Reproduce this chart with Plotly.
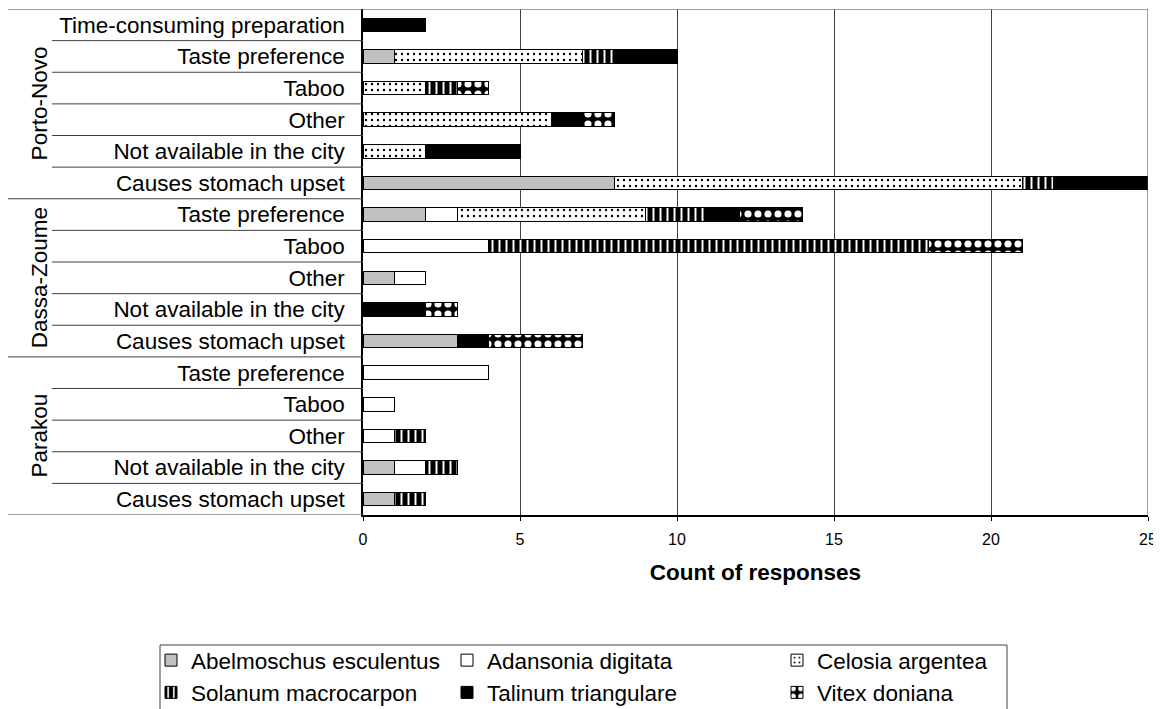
import plotly.graph_objects as go

# ---------------- data (rows listed top -> bottom) ----------------
row_labels = [
    "Time-consuming preparation", "Taste preference", "Taboo", "Other",
    "Not available in the city", "Causes stomach upset",
    "Taste preference", "Taboo", "Other", "Not available in the city", "Causes stomach upset",
    "Taste preference", "Taboo", "Other", "Not available in the city", "Causes stomach upset",
]
groups = ["Porto-Novo", "Dassa-Zoume", "Parakou"]
group_sizes = [6, 5, 5]

species = ["Abelmoschus esculentus", "Adansonia digitata", "Celosia argentea",
           "Solanum macrocarpon", "Talinum triangulare", "Vitex doniana"]

abelmoschus = [None, 1, None, None, None, 8, 2, None, 1, None, 3, None, None, None, 1, 1]
adansonia   = [None, None, None, None, None, None, 1, 4, 1, None, None, 4, 1, 1, 1, None]
celosia     = [None, 6, 2, 6, 2, 13, 6, None, None, None, None, None, None, None, None, None]
solanum     = [None, 1, 1, None, None, 1, 2, 14, None, None, None, None, None, 1, 1, 1]
talinum     = [2, 2, None, 1, 3, 3, 1, None, None, 2, 1, None, None, None, None, None]
vitex       = [None, None, 1, 1, None, None, 2, 3, None, 1, 3, None, None, None, None, None]

x_ticks = [0, 5, 10, 15, 20, 25]
x_title = "Count of responses"

# ---------------- geometry helpers (screen pixel -> paper) ----------------
OFF = 8                      # page body margin
W, H = 1161 - OFF, 709 - OFF
PL, PR, PT, PB = 363, 1148, 9, 515        # plot area in screen pixels
L, T = PL - OFF, PT - OFF
R, B = W - (PR - OFF), H - (PB - OFF)
PW, PH = PR - PL, PB - PT


def px(p):
    return (p - PL) / PW


def py(p):
    return (PB - p) / PH


def cx(p):
    return (p - OFF) / W


def cy(p):
    return (H - (p - OFF)) / H


FONT = "Liberation Sans, Arial, sans-serif"
ypos = list(range(len(row_labels)))

styles = [
    dict(color="#c0c0c0"),
    dict(color="white"),
    dict(color="white", pattern=dict(shape=".", fgcolor="black", bgcolor="white", fgopacity=1,
                                       size=6, solidity=0.12, fillmode="overlay")),
    dict(color="black", pattern=dict(shape="|", fgcolor="white", bgcolor="black", fgopacity=1,
                                       size=7, solidity=0.28, fillmode="overlay")),
    dict(color="black"),
    dict(color="black", pattern=dict(shape=".", fgcolor="white", bgcolor="black", fgopacity=1,
                                       size=10, solidity=0.4, fillmode="overlay")),
]
values = [abelmoschus, adansonia, celosia, solanum, talinum, vitex]
legend_ids = ["legend", "legend2", "legend3", "legend", "legend2", "legend3"]

fig = go.Figure()
for name, vals, st, lg in zip(species, values, styles, legend_ids):
    marker = dict(color=st["color"], line=dict(color="black", width=1))
    if "pattern" in st:
        marker["pattern"] = st["pattern"]
    fig.add_trace(go.Bar(
        y=ypos, x=vals, name=name, orientation="h", marker=marker,
        width=0.43, legend=lg,
    ))

shapes = []
n = len(row_labels)
boundaries_group = set()
acc = 0
for s in group_sizes:
    boundaries_group.add(acc - 0.5)
    acc += s
boundaries_group.add(acc - 0.5)
for k in range(n + 1):
    b = k - 0.5
    x0 = px(8) if b in boundaries_group else px(52)
    shapes.append(dict(type="line", xref="paper", yref="y", x0=x0, x1=0, y0=b, y1=b,
                       line=dict(color="#404040", width=1)))
# top border across plot
shapes.append(dict(type="line", xref="paper", yref="y", x0=0, x1=1, y0=-0.5, y1=-0.5,
                   line=dict(color="#808080", width=1.5)))
# right edge gridline
shapes.append(dict(type="line", xref="x", yref="paper", x0=x_ticks[-1], x1=x_ticks[-1], y0=0, y1=1,
                   line=dict(color="#404040", width=1)))
# legend box
shapes.append(dict(type="rect", xref="paper", yref="paper", x0=px(160), x1=px(1007),
                   y0=py(720), y1=py(645), line=dict(color="#404040", width=1)))

annotations = []
acc = 0
for g, s in zip(groups, group_sizes):
    center = acc + (s - 1) / 2
    annotations.append(dict(text=g, xref="paper", yref="y", x=px(25), y=center,
                            textangle=-90, showarrow=False,
                            font=dict(family=FONT, size=22.5, color="black")))
    acc += s

fig.update_layout(
    width=W, height=H,
    margin=dict(l=L, r=R, t=T, b=B, pad=0, autoexpand=False),
    paper_bgcolor="white", plot_bgcolor="white",
    barmode="stack",
    font=dict(family=FONT, color="black"),
    shapes=shapes, annotations=annotations,
    xaxis=dict(range=[x_ticks[0], x_ticks[-1]], tickvals=x_ticks, showgrid=True,
               gridcolor="#404040", gridwidth=1, zeroline=False, automargin=False,
               showline=True, linecolor="black", linewidth=1.5,
               ticks="outside", ticklen=4, tickcolor="black",
               tickfont=dict(size=16, family=FONT), ticklabelstandoff=5,
               ticklabeloverflow="allow",
               title=dict(text="<b>" + x_title + "</b>", font=dict(size=22.5, family=FONT),
                          standoff=17)),
    yaxis=dict(range=[n - 0.5, -0.5], tickvals=ypos, ticktext=row_labels,
               showgrid=False, zeroline=False, showline=True, linecolor="black",
               linewidth=1.5, ticks="", tickfont=dict(size=22.5, family=FONT),
               ticklabelstandoff=12, automargin=False),
    showlegend=True,
)
leg_common = dict(orientation="v", yanchor="top", xanchor="left", yref="container",
                  xref="container", y=cy(639),
                  font=dict(size=22.5, family=FONT), bgcolor="rgba(0,0,0,0)",
                  traceorder="normal", tracegroupgap=0, itemclick=False)
fig.update_layout(
    legend=dict(x=cx(151), **leg_common),
    legend2=dict(x=cx(447), **leg_common),
    legend3=dict(x=cx(777), **leg_common),
)

fig.write_html("out.html")
